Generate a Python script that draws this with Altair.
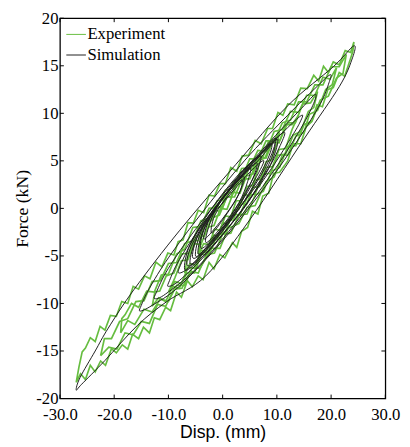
import altair as alt
import pandas as pd

X_TICKS = [-30, -20, -10, 0, 10, 20, 30]
Y_TICKS = [-20, -15, -10, -5, 0, 5, 10, 15, 20]
SERIES = ["Experiment", "Simulation"]
COLORS = ["#66bd40", "#1e1e1e"]

# ---------------- Experiment (green, noisy loops) ----------------
EXP1_LX = [-27, -26.2, -25.3, -24.4, -23.5, -22.5, -21.6, -20.5, -19.6, -18.5, -17.5, -16.6, -15.5, -14.6,
           -13.5, -12.6, -11.6, -10.5, -9.6, -8.5, -7.6, -6.5, -5.6, -4.5, -3.6, -2.5, -1.6, -0.5, 0.4, 1.8,
           2.6, 3.5, 4.6, 5.5, 6.5, 7.4, 8.5, 9.4, 10.5, 11.4, 12.0, 13.0, 14.4, 15.4, 16.4, 17.4, 18.4, 19.4,
           20.4, 21.5, 22.5, 23.5, 24.0, 24.2]
EXP1_LY = [-18.3, -17.4, -18.0, -16.5, -17.2, -16.05, -16.5, -14.75, -15.2, -14.35, -14.8, -13.25, -13.7,
           -12.5, -13.1, -11.5, -11.7, -10.4, -10.75, -8.8, -9.35, -7.6, -8.25, -7.1, -7.5, -5.7, -6.35, -4.85,
           -5.2, -3.6, -4.1, -2.4, -2.0, -0.3, -0.6, 1.3, 1.6, 3.7, 3.8, 4.5, 5.0, 6.8, 6.8, 8.6, 9.1, 10.9,
           10.7, 12.5, 12.7, 14.3, 13.9, 15.6, 16.5, 17.5]
EXP1_UX = [24.2, 23.6, 22.6, 21.5, 20.4, 19.5, 18.6, 17.7, 16.8, 15.6, 14.4, 13.2, 12.0, 11.1, 10.2, 9.2, 8.3,
           7.1, 6.0, 4.8, 3.6, 2.6, 1.5, 0.5, -0.5, -1.5, -2.5, -3.5, -4.5, -5.4, -6.4, -7.3, -8.2, -9.0,
           -10.1, -11.2, -12.3, -13.4, -14.4, -15.5, -16.5, -17.5, -18.6, -19.6, -20.7, -21.7, -22.6, -23.5,
           -24.4, -25.3, -25.9, -26.5, -27.0]
EXP1_UY = [17.5, 16.4, 16.6, 15.1, 15.4, 14.3, 14.95, 13.4, 14.0, 12.6, 12.65, 10.9, 11.0, 9.8, 10.1, 8.4,
           8.4, 6.8, 7.15, 5.6, 5.5, 3.9, 4.3, 2.6, 2.6, 1.3, 1.4, -0.45, -0.2, -1.55, -1.5, -3.3, -3.5, -4.9,
           -4.7, -6.15, -5.65, -7.4, -7.1, -8.5, -8.2, -10.0, -9.8, -11.35, -11.25, -12.8, -12.4, -14.0,
           -13.6, -14.7, -15.1, -16.7, -18.3]

EXP7_LX = [-22.5, -21.0, -19.5, -18.0, -16.5, -15.0, -13.5, -12.0, -10.5, -9.0, -7.5, -6.0, -4.5, -3.0, -1.5,
           0.0, 1.5, 3.0, 4.5, 6.0, 7.5, 9.0, 10.5, 12.0, 13.5, 15.0, 16.5, 18.0, 19.5, 21.0, 22.2, 22.8]
EXP7_LY = [-15.5, -14.6, -14.8, -13.1, -13.3, -11.9, -12.1, -10.1, -10.3, -8.5, -8.4, -6.6, -6.8, -4.9, -4.7,
           -2.7, -2.6, -0.7, -0.6, 1.4, 1.8, 3.9, 4.3, 6.5, 6.6, 8.8, 9.2, 11.4, 11.8, 13.7, 14.2, 16.2]
EXP7_UX = [22.8, 21.5, 20.0, 18.5, 17.0, 15.5, 14.0, 12.5, 11.0, 9.5, 8.0, 6.5, 5.0, 3.5, 2.0, 0.5, -1.0,
           -2.5, -4.0, -5.5, -7.0, -8.5, -10.0, -11.5, -13.0, -14.5, -16.0, -17.5, -19.0, -20.5, -21.8, -22.5]
EXP7_UY = [16.2, 14.9, 14.9, 13.0, 13.0, 11.2, 11.2, 9.3, 9.0, 7.1, 7.1, 5.2, 5.2, 3.2, 2.8, 0.9, 0.8, -1.1,
           -1.3, -3.4, -3.7, -5.7, -5.8, -7.6, -7.7, -9.7, -9.8, -11.6, -11.9, -13.7, -13.7, -15.5]

EXP2_LX = [-18.8, -17.5, -16.2, -14.5, -13.0, -11.5, -10.0, -8.5, -7.0, -5.6, -4.2, -2.0, -0.5, 1.0, 3.0,
           4.5, 6.0, 8.0, 9.5, 11.0, 12.0, 13.5, 15.0, 16.0, 17.5, 19.0, 20.2, 21.0]
EXP2_LY = [-13.1, -11.8, -12.2, -10.6, -10.9, -9.5, -9.8, -8.1, -8.1, -6.2, -6.3, -4.2, -4.2, -2.1, -1.6,
           0.1, 0.3, 2.8, 3.3, 5.6, 5.6, 7.6, 8.0, 9.9, 10.3, 12.5, 13.0, 14.8]
EXP2_UX = [21.0, 19.8, 18.5, 17.0, 15.5, 14.0, 12.5, 11.0, 9.5, 8.0, 6.5, 5.0, 3.5, 2.0, 0.5, -1.0, -2.5,
           -4.0, -5.5, -7.0, -8.5, -10.0, -11.3, -12.6, -14.0, -15.5, -16.8, -18.0, -18.6, -18.8]
EXP2_UY = [14.8, 13.6, 13.8, 11.9, 11.9, 10.1, 10.2, 8.3, 8.1, 6.0, 6.1, 4.3, 4.2, 2.2, 1.9, 0.1, 0.0, -1.9,
           -2.0, -4.3, -4.8, -6.9, -7.0, -8.8, -8.7, -10.4, -10.0, -11.2, -11.6, -13.1]

EXP3_LX = [-13.0, -11.8, -10.5, -9.2, -8.0, -6.6, -5.2, -3.8, -2.4, -1.0, 0.4, 1.8, 3.2, 4.6, 6.0, 7.4, 8.8,
           10.2, 11.6, 13.0, 14.4, 15.8, 16.8, 17.5]
EXP3_LY = [-10.3, -9.4, -9.8, -8.2, -8.4, -6.8, -6.8, -4.6, -4.7, -2.8, -2.6, -0.6, -0.7, 1.3, 1.5, 3.6, 3.7,
           5.6, 5.7, 7.7, 8.1, 10.2, 10.6, 12.3]
EXP3_UX = [17.5, 16.2, 14.8, 13.4, 12.0, 10.6, 9.2, 7.8, 6.4, 5.0, 3.6, 2.2, 0.8, -0.6, -2.0, -3.4, -4.8,
           -6.2, -7.6, -9.0, -10.4, -11.6, -12.5, -13.0]
EXP3_UY = [12.3, 11.1, 11.0, 9.0, 9.0, 7.2, 7.2, 5.3, 5.0, 3.1, 3.1, 1.2, 1.2, -0.7, -1.0, -2.9, -2.9, -4.7,
           -4.8, -6.8, -7.1, -8.7, -8.8, -10.3]

EXP4_LX = [-10.0, -8.8, -7.6, -6.4, -5.2, -4.0, -2.8, -1.6, -0.4, 0.8, 2.0, 3.2, 4.4, 5.6, 6.8, 8.0, 9.2,
           10.4, 11.6, 12.8, 14.0]
EXP4_LY = [-8.8, -7.7, -7.9, -6.2, -6.3, -4.8, -4.9, -2.8, -3.1, -1.3, -1.2, 0.6, 0.4, 2.2, 2.3, 4.3, 4.4,
           6.2, 6.3, 8.3, 9.8]
EXP4_UX = [14.0, 12.8, 11.6, 10.4, 9.2, 8.0, 6.8, 5.6, 4.4, 3.2, 2.0, 0.8, -0.4, -1.6, -2.8, -4.0, -5.2,
           -6.4, -7.6, -8.8, -10.0]
EXP4_UY = [9.8, 8.8, 8.8, 6.9, 7.0, 5.3, 5.4, 3.6, 3.4, 1.6, 1.7, -0.1, 0.0, -1.8, -2.0, -3.8, -3.7, -5.4,
           -5.5, -7.3, -8.8]

EXP5_LX = [-7.0, -6.0, -5.0, -4.0, -3.0, -2.0, -1.0, 0.0, 1.0, 2.0, 3.0, 4.0, 5.0, 6.0, 7.0, 8.0, 9.0, 10.0, 10.5]
EXP5_LY = [-6.8, -5.8, -6.0, -4.4, -4.5, -3.1, -3.3, -1.5, -1.7, -0.2, -0.1, 1.5, 1.3, 3.0, 3.1, 4.9, 5.1, 6.8, 8.0]
EXP5_UX = [10.5, 9.5, 8.5, 7.5, 6.5, 5.5, 4.5, 3.5, 2.5, 1.5, 0.5, -0.5, -1.5, -2.5, -3.5, -4.5, -5.5, -6.5, -7.0]
EXP5_UY = [8.0, 7.1, 7.1, 5.5, 5.5, 4.1, 4.3, 2.6, 2.6, 1.2, 1.3, -0.3, -0.2, -1.7, -1.8, -3.4, -3.4, -5.2, -6.8]

EXP6_LX = [-4.5, -3.5, -2.5, -1.5, -0.5, 0.5, 1.5, 2.5, 3.5, 4.5, 5.5, 6.5, 7.0]
EXP6_LY = [-4.8, -3.7, -3.8, -2.2, -2.3, -0.8, -0.9, 0.8, 0.8, 2.3, 2.4, 4.1, 5.5]
EXP6_UX = [7.0, 6.0, 5.0, 4.0, 3.0, 2.0, 1.0, 0.0, -1.0, -2.0, -3.0, -4.0, -4.5]
EXP6_UY = [5.5, 4.5, 4.5, 2.9, 3.0, 1.6, 1.7, 0.1, 0.2, -1.3, -1.3, -3.1, -4.8]

# ---------------- Simulation (black, smooth loops) ----------------
SIM1_X = [-27, -26, -21.7, -15.7, -10.3, -3.1, 5, 15, 21.5, 23.8, 24.2, 20.4, 12, 2.4, -7.9, -16.3, -21.1, -23.5, -26.3]
SIM1_Y = [-19.1, -18.5, -16, -12.3, -9.8, -7.1, -1.2, 7.3, 12.8, 15.6, 17.1, 14.9, 10.8, 4.6, -2.3, -8.5, -12.6, -15, -17.8]
SIM2_X = [-15.2, -13, -8, 0, 8, 14, 18, 19.6, 19.8, 17, 12, 4, -4, -10, -13.5, -15]
SIM2_Y = [-10.8, -10.2, -8.2, -3.4, 2.4, 7.3, 11, 13.2, 14.05, 12.6, 9.8, 5.0, -0.6, -5.2, -8.4, -10.2]
SIM3_X = [-12.5, -10.5, -5, 2, 9, 14, 16.6, 17.1, 14.5, 9, 2, -5, -10, -12.2]
SIM3_Y = [-9.5, -9.0, -6.4, -1.8, 3.6, 8.0, 10.8, 12.0, 10.5, 7.2, 2.8, -2.2, -6.3, -8.8]
SIM4_X = [-10, -8, -3, 3, 9, 12.8, 14.3, 14.6, 12, 7, 1, -4, -8, -9.8]
SIM4_Y = [-8.2, -7.6, -4.8, -0.6, 4.2, 7.6, 9.1, 9.8, 8.5, 5.6, 1.7, -1.9, -5.4, -7.6]
SIM5_X = [-8, -6, -2, 3, 8, 10.6, 11.4, 9, 4, -1, -5, -7.8]
SIM5_Y = [-6.8, -6.1, -3.6, 0, 3.8, 6.6, 8.0, 6.9, 3.8, 0.4, -2.8, -6.0]
SIM6_X = [-6, -4, 0, 4, 8, 9, 6, 2, -2, -5]
SIM6_Y = [-5.8, -5.0, -2.4, 0.8, 4.8, 6.8, 5.2, 2.6, -0.4, -3.4]
SIM7_X = [-4.5, -2, 2, 6, 7, 4, 0, -3.5]
SIM7_Y = [-4.8, -3.4, -0.4, 3.6, 5.5, 3.8, 1.0, -2.2]
SIM8_X = [-3, 0, 3, 4.6, 5, 2, -1, -2.6]
SIM8_Y = [-3.6, -1.8, 0.6, 2.8, 4.2, 2.4, 0.2, -2.0]
SIM9_X = [-2, 0.5, 3, 3.5, 1, -1.5]
SIM9_Y = [-2.6, -0.8, 1.5, 3, 1.4, -0.8]
SIM10_X = [-5.5, -3, 1, 5, 8.5, 9.8, 7, 3, -1, -4.5]
SIM10_Y = [-5.2, -4.3, -1.6, 1.6, 5.0, 7.4, 5.8, 3.4, 0.2, -2.8]
SIM11_X = [-7, -5, -1, 4, 8.5, 10.2, 8, 3, -2, -6]
SIM11_Y = [-6.4, -5.8, -3.4, 0.2, 4.2, 7.2, 6.2, 3.6, 0.0, -3.8]
SIM12_X = [-4, -1.5, 2.5, 5.6, 6.2, 3, -0.5, -3.4]
SIM12_Y = [-4.2, -3.0, -0.2, 3.2, 4.8, 3.0, 0.6, -2.2]
SIM13_X = [-6.5, -4, 0.5, 5, 8.8, 9.5, 6.5, 2, -2.5, -5.8]
SIM13_Y = [-6.0, -5.2, -2.4, 0.9, 5.0, 6.9, 5.0, 2.4, -0.8, -4.0]
SIM14_X = [-3.5, -1, 2.5, 4, 1.5, -2]
SIM14_Y = [-3.2, -1.8, 1.0, 3.3, 2.2, -0.6]
SIM15_X = [-5, -2.5, 1.5, 5.5, 7.6, 5, 1, -3.6]
SIM15_Y = [-5.0, -3.8, -1.0, 2.6, 5.0, 3.8, 1.2, -2.0]

exp_loops = [
    (EXP6_LX, EXP6_LY, EXP6_UX, EXP6_UY),
    (EXP5_LX, EXP5_LY, EXP5_UX, EXP5_UY),
    (EXP4_LX, EXP4_LY, EXP4_UX, EXP4_UY),
    (EXP3_LX, EXP3_LY, EXP3_UX, EXP3_UY),
    (EXP2_LX, EXP2_LY, EXP2_UX, EXP2_UY),
    (EXP7_LX, EXP7_LY, EXP7_UX, EXP7_UY),
    (EXP1_LX, EXP1_LY, EXP1_UX, EXP1_UY),
]
sim_loops = [
    (SIM1_X, SIM1_Y), (SIM2_X, SIM2_Y), (SIM3_X, SIM3_Y), (SIM4_X, SIM4_Y),
    (SIM5_X, SIM5_Y), (SIM6_X, SIM6_Y), (SIM7_X, SIM7_Y), (SIM8_X, SIM8_Y),
    (SIM9_X, SIM9_Y), (SIM10_X, SIM10_Y), (SIM11_X, SIM11_Y), (SIM12_X, SIM12_Y),
    (SIM13_X, SIM13_Y), (SIM14_X, SIM14_Y), (SIM15_X, SIM15_Y),
]

rows = []
for k, (lx, ly, ux, uy) in enumerate(exp_loops):
    xs = lx + ux
    ys = ly + uy
    for i, (a, b) in enumerate(zip(xs, ys)):
        rows.append({"x": a, "y": b, "loop": f"e{k}", "i": i, "series": SERIES[0]})
exp_df = pd.DataFrame(rows)

rows = []
for k, (xs, ys) in enumerate(sim_loops):
    for i, (a, b) in enumerate(zip(xs, ys)):
        rows.append({"x": a, "y": b, "loop": f"s{k}", "i": i, "series": SERIES[1]})
sim_df = pd.DataFrame(rows)

SERIF = "Liberation Serif"
SANS = "Liberation Sans"
W, H = 332, 388
MINUS_FIX = "replace(datum.label, '\u2212', '-')"

xscale = alt.Scale(domain=[-30, 30], nice=False, zero=False)
yscale = alt.Scale(domain=[-20, 20], nice=False, zero=False)
cscale = alt.Scale(domain=SERIES, range=COLORS)

xaxis = alt.Axis(values=X_TICKS, format=".1f", labelExpr=MINUS_FIX, ticks=False, domain=False, grid=False,
                 labelFont=SERIF, labelFontSize=17, labelColor="black", labelPadding=8,
                 labelFlush=False, labelOverlap=False,
                 title="Disp. (mm)", titleFont=SANS, titleFontSize=18, titleFontWeight="normal",
                 titleColor="black", titlePadding=2)
yaxis = alt.Axis(values=Y_TICKS, format="d", labelExpr=MINUS_FIX, ticks=False, domain=False, grid=False,
                 labelFont=SERIF, labelFontSize=17, labelColor="black", labelPadding=2,
                 labelFlush=False, labelOverlap=False,
                 title="Force (kN)", titleFont=SERIF, titleFontSize=18, titleFontWeight="normal",
                 titleColor="black", titlePadding=4)
legend = alt.Legend(title=None, orient="none", legendX=6, legendY=6, symbolType="stroke", symbolSize=400,
                    symbolStrokeWidth=1, labelFont=SERIF, labelFontSize=17, labelColor="black",
                    labelOffset=1, rowPadding=2, padding=0)

exp_layer = alt.Chart(exp_df).mark_line(strokeWidth=1.7, interpolate="linear").encode(
    x=alt.X("x:Q", scale=xscale, axis=xaxis),
    y=alt.Y("y:Q", scale=yscale, axis=yaxis),
    color=alt.Color("series:N", scale=cscale, legend=legend),
    detail="loop:N",
    order="i:Q",
)
sim_layer = alt.Chart(sim_df).mark_line(strokeWidth=1.0, interpolate="cardinal-closed").encode(
    x=alt.X("x:Q", scale=xscale, axis=xaxis),
    y=alt.Y("y:Q", scale=yscale, axis=yaxis),
    color=alt.Color("series:N", scale=cscale, legend=legend),
    detail="loop:N",
    order="i:Q",
)

xt = pd.DataFrame({"x": X_TICKS})
yt = pd.DataFrame({"y": Y_TICKS})
tick_style = dict(color="black", strokeWidth=1)
t_bottom = alt.Chart(xt).mark_rule(**tick_style).encode(
    x=alt.X("x:Q", scale=xscale, axis=xaxis), y=alt.value(H), y2=alt.value(H - 4))
t_top = alt.Chart(xt).mark_rule(**tick_style).encode(
    x=alt.X("x:Q", scale=xscale, axis=xaxis), y=alt.value(0), y2=alt.value(4))
t_left = alt.Chart(yt).mark_rule(**tick_style).encode(
    y=alt.Y("y:Q", scale=yscale, axis=yaxis), x=alt.value(0), x2=alt.value(4))
t_right = alt.Chart(yt).mark_rule(**tick_style).encode(
    y=alt.Y("y:Q", scale=yscale, axis=yaxis), x=alt.value(W), x2=alt.value(W - 4))

chart = alt.layer(exp_layer, sim_layer, t_bottom, t_top, t_left, t_right).properties(
    width=W, height=H,
    padding={"left": 53, "top": 6, "right": 17, "bottom": 45},
    autosize=alt.AutoSizeParams(type="none"),
    background="white",
).configure_view(
    stroke="black", strokeWidth=1.3
).configure_axisX(
    labelFont=SERIF, titleFont=SANS
).configure_axisY(
    labelFont=SERIF, titleFont=SERIF
)

chart.save("out.html", embed_options={"renderer": "svg", "actions": False})
